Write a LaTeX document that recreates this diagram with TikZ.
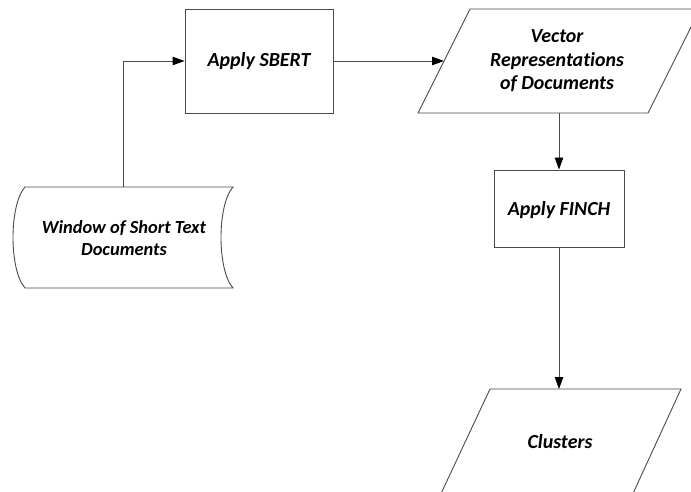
\documentclass[tikz,border=0pt]{standalone}
\usepackage{fontspec}
\setmainfont{Carlito}[Ligatures={NoCommon}]
\usetikzlibrary{arrows.meta}
\definecolor{edge}{HTML}{4A4A4A}
\tikzset{
  shapeline/.style={draw=edge, line width=0.9bp, fill=white},
  label/.style={font=\fontsize{20}{23.5}\selectfont\bfseries\itshape, align=center, text=black, inner sep=0pt},
  smalllabel/.style={label, font=\fontsize{18.5}{21.5}\selectfont\bfseries\itshape},
  flow/.style={draw=edge, line width=0.9bp, -{Triangle[length=12bp,width=8.5bp,color=black]}}
}
\begin{document}
\begin{tikzpicture}[x=1bp, y=-1bp]
\useasboundingbox (0,0) rectangle (691,492);
\clip (0,0) rectangle (691,492);

% input documents (stored-data style shape)
\path[shapeline] (25,187) -- (233,187)
  .. controls (217,205) and (217,270) .. (233,288)
  -- (25,288)
  .. controls (9,270) and (9,205) .. (25,187) -- cycle;
\node[smalllabel] (win) at (124,238) {Window of Short Text\\Documents};
\coordinate (winTop) at (123,187);

% SBERT step
\node[shapeline, minimum width=148bp, minimum height=104bp, inner sep=0pt] (sbert) at (259,61) {};
\node[label] (sbertText) at (259,61) {Apply SBERT};

% vector representations (parallelogram)
\path[shapeline] (470,9) -- (700,9) -- (648,113) -- (418,113) -- cycle;
\node[label] (vec) at (557,61) {Vector\\Representations\\of Documents};
\coordinate (vecIn) at (444,61);
\coordinate (vecOut) at (559,113);

% FINCH step
\node[shapeline, minimum width=130bp, minimum height=77bp, inner sep=0pt] (finch) at (559,208.5) {};
\node[label] (finchText) at (559,210) {Apply FINCH};

% clusters (parallelogram running off the bottom)
\path[shapeline] (490,389) -- (681,389) -- (630,500) -- (438,500) -- cycle;
\node[label] (clu) at (560,442) {Clusters};
\coordinate (cluIn) at (559,389);

% connectors
\coordinate (bend) at (123,61);
\draw[flow] (winTop) -- (bend) -- (sbert.west);
\draw[flow] (sbert.east) -- (vecIn);
\draw[flow] (vecOut) -- (finch.north);
\draw[flow] (finch.south) -- (cluIn);
\end{tikzpicture}
\end{document}
